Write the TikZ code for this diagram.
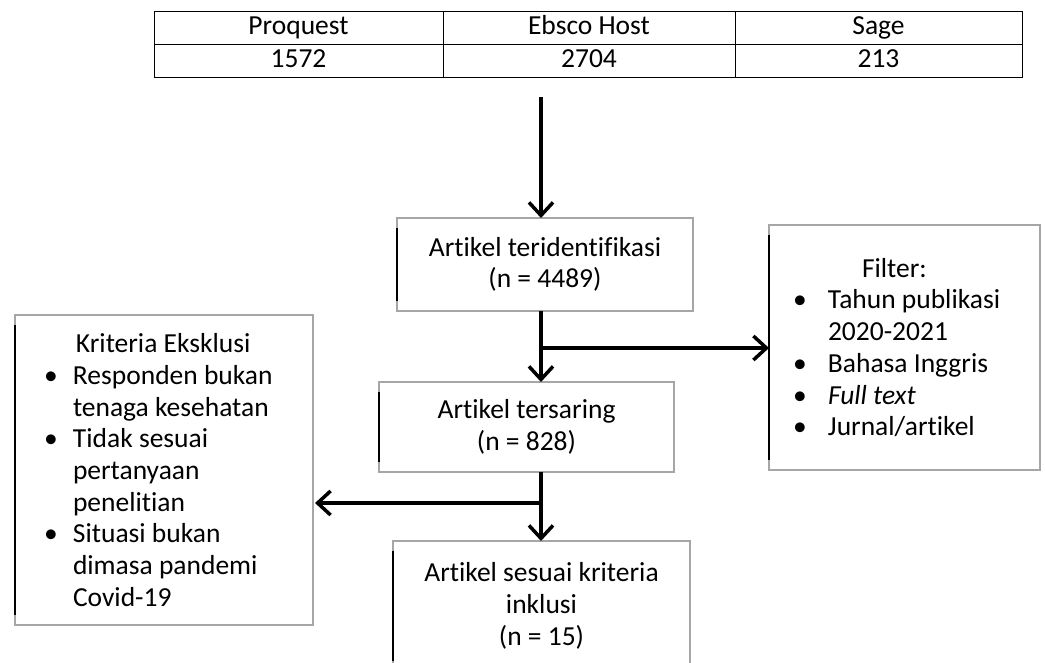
\documentclass[tikz,border=0pt]{standalone}
\usepackage{fontspec}
\setmainfont[Ligatures=NoCommon]{Carlito}
\usetikzlibrary{arrows.meta}
\newcommand{\bulitem}[2][29pt]{\makebox[#1][l]{\textbullet}#2}
\newcommand{\bulcont}[2][29pt]{\hspace*{#1}#2}
\tikzset{
every node/.style={font=\fontsize{27.5}{31.7}\selectfont},
%%%%%%%%%%  Node styles
cell/.style={draw=black, line width=1pt, inner sep=0pt, outer sep=0pt,
             minimum height=33pt, text height=19pt, text depth=5pt},
box/.style={draw=black!35, line width=1.2pt, inner sep=0pt, outer sep=0pt,
            align=center},
listbox/.style={box, align=flush left},
%%%% line styles
leftbar/.style={line width=1.6pt, black},
flow/.style={line width=3.5pt, -{Straight Barb[length=13pt, width=24pt]}},
branch/.style={line width=3.5pt}
}

\begin{document}
\begin{tikzpicture}[x=1pt, y=1pt]
\useasboundingbox (0,0) rectangle (1045,-662);
% database table
\node[cell, minimum width=289pt] (hpro) at (298.5,-27.5) {Proquest};
\node[cell, minimum width=292pt] (hebs) at (589,-27.5) {Ebsco Host};
\node[cell, minimum width=287pt] (hsag) at (878.5,-27.5) {Sage};
\node[cell, minimum width=289pt] (npro) at (298.5,-60.5) {1572};
\node[cell, minimum width=292pt] (nebs) at (589,-60.5) {2704};
\node[cell, minimum width=287pt] (nsag) at (878.5,-60.5) {213};
% flow boxes
\node[box, minimum width=296pt, minimum height=93pt] (ident) at (545,-264.5)
     {Artikel teridentifikasi\\(n = 4489)};
\node[box, minimum width=295pt, minimum height=90pt] (saring) at (526.5,-427)
     {Artikel tersaring\\(n = 828)};
\node[box, minimum width=297pt, minimum height=130pt] (inklusi) at (541.5,-606)
     {Artikel sesuai kriteria\\inklusi\\(n = 15)};
\node[listbox, minimum width=271pt, minimum height=245pt, text width=223pt,
      inner xsep=24pt] (filter) at (904.5,-347.5)
     {\bulcont[69pt]{Filter:}\\
      \bulitem[35pt]{Tahun publikasi}\\
      \bulcont[35pt]{2020-2021}\\
      \bulitem[35pt]{Bahasa Inggris}\\
      \bulitem[35pt]{\textit{Full text}}\\
      \bulitem[35pt]{Jurnal/artikel}\\[20pt]};
\node[listbox, minimum width=298pt, minimum height=310pt, text width=240pt,
      inner xsep=29pt] (eksklusi) at (164,-470)
     {\bulcont[32pt]{Kriteria Eksklusi}\\
      \bulitem{Responden bukan}\\
      \bulcont{tenaga kesehatan}\\
      \bulitem{Tidak sesuai}\\
      \bulcont{pertanyaan}\\
      \bulcont{penelitian}\\
      \bulitem{Situasi bukan}\\
      \bulcont{dimasa pandemi}\\
      \bulcont{Covid-19}};
\foreach \n in {ident,saring,inklusi,filter,eksklusi}
  \draw[leftbar] ([yshift=-10pt]\n.north west) -- ([yshift=10pt]\n.south west);
% connectors
\coordinate (start) at (541,-97);
\coordinate (jfil) at (541,-348);
\coordinate (jeks) at (541,-503);
\draw[flow] (start) -- (ident.north -| start);
\draw[branch] (ident.south -| start) -- (jfil);
\draw[flow] (jfil) -- (saring.north -| start);
\draw[flow] (jfil) -- (filter.west |- jfil);
\draw[branch] (saring.south -| start) -- (jeks);
\draw[flow] (jeks) -- (inklusi.north -| start);
\draw[flow] (jeks) -- ([xshift=2pt]eksklusi.east |- jeks);
\end{tikzpicture}
\end{document}
